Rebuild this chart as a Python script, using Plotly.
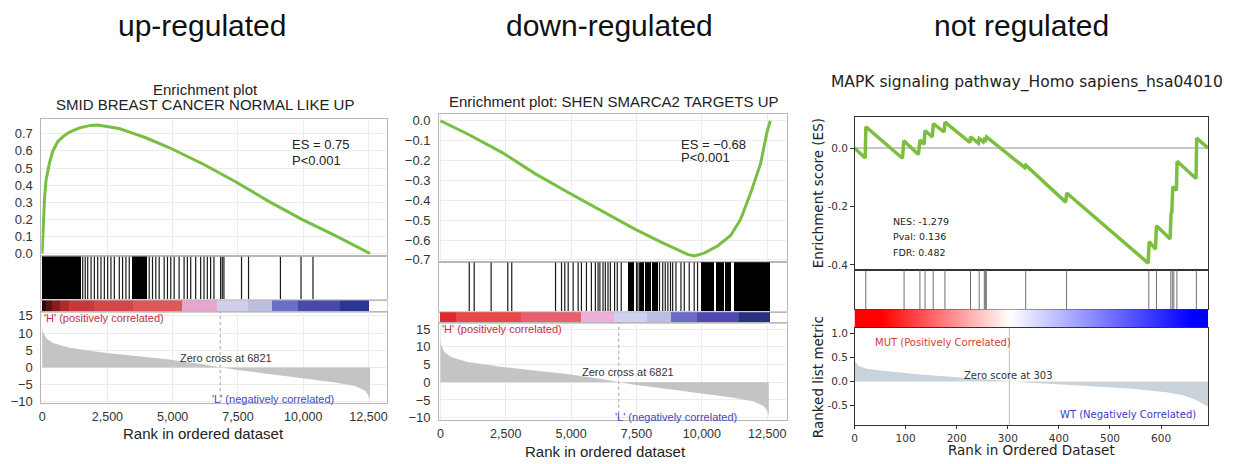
import plotly.graph_objects as go

W, H = 1233, 464


def fx(px):
    return px / W


def fy(py):
    return 1 - py / H


# ---------------- data ----------------
# Panel 1: up-regulated (SMID BREAST CANCER NORMAL LIKE UP)
es1_rank = [0, 40, 90, 150, 280, 410, 600, 800, 1050, 1430, 1810, 2130, 2450, 2950,
            3600, 3970, 4860, 6140, 7410, 8680, 9950, 11230, 12560]
es1_score = [0.0, 0.16, 0.32, 0.43, 0.53, 0.60, 0.655, 0.684, 0.71, 0.735, 0.748, 0.752,
             0.745, 0.731, 0.697, 0.677, 0.62, 0.525, 0.42, 0.305, 0.2, 0.105, 0.0]
hit1_single = [1554, 1650, 1745, 1874, 2000, 2127, 2253, 2382, 2509, 2635, 2764, 2955,
               3081, 3208, 3336, 4100, 4227, 4353, 4483, 4674, 4800, 4926, 5056, 5246,
               5437, 5563, 5690, 5880, 6071, 6200, 6327, 6453, 6581, 6835, 6900, 6963,
               7637, 7905, 9127, 9916, 10374]
hit1_block_start = [0, 3463]
hit1_block_end = [1500, 4036]
cb1_start = [0, 150, 400, 700, 1050, 2000, 3500, 5380, 6700, 7900, 8800, 9830, 11420]
cb1_end = [150, 400, 700, 1050, 2000, 3500, 5380, 6700, 7900, 8800, 9830, 11420, 12550]
cb1_color = ['#2a0a0a', '#5c1212', '#8c1c1c', '#ad2a2a', '#c43a3a', '#d24848', '#de5858',
             '#e6a6cc', '#cfcfec', '#bdbde3', '#6a6ec4', '#4a48aa', '#2a3598']

# Panel 2: down-regulated (SHEN SMARCA2 TARGETS UP)
es2_rank = [0, 1080, 2350, 3620, 4890, 6155, 7420, 8440, 9075, 9455, 9710, 10090,
            10600, 11100, 11485, 11865, 12245, 12500, 12620]
es2_score = [0.0, -0.069, -0.159, -0.266, -0.361, -0.451, -0.544, -0.61, -0.648, -0.672,
             -0.68, -0.666, -0.63, -0.577, -0.495, -0.364, -0.216, -0.052, 0.0]
hit2_single = [1104, 1294, 1941, 2577, 2729, 4404, 4633, 4758, 4888, 5078, 5268, 5394,
               5585, 5775, 5927, 6030, 6100, 6220, 6308, 6410, 6500, 6662, 6765, 6916,
               7500, 7551, 7613, 8380, 8503, 8600, 8700, 8800, 8884, 9009, 9200, 9327,
               9517, 9707, 9835]
hit2_block_start = [7172, 7652, 7830, 8090, 9962, 10530, 10900, 11229]
hit2_block_end = [7423, 7780, 8040, 8313, 10450, 10840, 11130, 12620]
cb2_start = [0, 600, 3100, 5380, 6650, 7900, 8820, 9830, 11420]
cb2_end = [600, 3100, 5380, 6650, 7900, 8820, 9830, 11420, 12620]
cb2_color = ['#e02a2a', '#e64848', '#e6606e', '#eeb0d8', '#d0d0f0', '#bcbce6', '#6a6ac8',
             '#5048b0', '#283080']

# Ranked list metric (same dataset for panels 1 and 2)
metric_rank = [0, 27, 154, 408, 1045, 2317, 3590, 4864, 6136, 6821, 7408, 8683, 9954,
               11226, 11990, 12373, 12500, 12560]
metric_value = [11.8, 10.4, 8.5, 7.1, 5.7, 4.35, 3.3, 2.3, 0.9, 0.0, -0.7, -1.9, -3.1,
                -4.4, -5.4, -6.8, -8.1, -9.3]
zero_cross = 6821

# Panel 3: not regulated (MAPK signaling pathway)
es3_rank = [0, 20.9, 22.2, 93.8, 96.4, 125, 128.3, 136.1, 138, 152.3, 154.3, 175.1, 177.1,
            225.9, 227.2, 242.2, 244.1, 251.9, 253.9, 256.5, 258.4, 333.3, 335.2, 413.3,
            415.3, 574.7, 576.7, 589, 591, 617.7, 619.6, 620.9, 622.9, 630, 631.3, 668.4,
            669.7, 692]
es3_score = [0.0, -0.034, 0.073, -0.035, 0.025, -0.022, 0.028, 0.013, 0.060, 0.038, 0.084,
             0.055, 0.089, 0.019, 0.038, 0.017, 0.032, 0.021, 0.030, 0.027, 0.038, -0.067,
             -0.059, -0.185, -0.154, -0.394, -0.320, -0.346, -0.266, -0.311, -0.221,
             -0.223, -0.132, -0.145, -0.045, -0.104, 0.034, 0.0]
hit3 = [22, 97, 128, 138, 154, 177, 227, 244, 254, 256, 258, 335, 415, 576, 591, 619,
        622, 625, 631, 669]
m3_rank = [0, 8, 24, 56, 122, 187, 252, 303, 350, 415, 480, 545, 610, 643, 669, 692]
m3_value = [0.43, 0.32, 0.265, 0.22, 0.15, 0.10, 0.048, 0.0, -0.034, -0.068, -0.11, -0.156,
            -0.224, -0.29, -0.39, -0.53]
zero_score = 303
cb3_rank = [0, 50, 303, 660, 692]
cb3_level = [1, 1, 0, -1, -1]

# ---------------- styles ----------------
GREEN = '#76bf43'
GREEN3 = '#7cbf3f'
ARIAL = 'Liberation Sans'
DEJA = 'DejaVu Sans'


def vlines(xs):
    X, Y = [], []
    for r in xs:
        X += [r, r, None]
        Y += [0, 1, None]
    return X, Y


fig = go.Figure()

# ---- panel 1 ----
fig.add_trace(go.Scatter(x=metric_rank, y=metric_value, mode='lines', fill='tozeroy',
                         fillcolor='#c4c4c4', line=dict(width=0, color='#c4c4c4'),
                         xaxis='x4', yaxis='y4'))
fig.add_trace(go.Scatter(x=es1_rank, y=es1_score, mode='lines',
                         line=dict(color=GREEN, width=3), xaxis='x', yaxis='y'))
X, Y = vlines(hit1_single)
fig.add_trace(go.Scatter(x=X, y=Y, mode='lines', line=dict(color='#1a1a1a', width=1.2),
                         xaxis='x2', yaxis='y2'))
fig.add_trace(go.Bar(x=hit1_block_start, y=[1] * len(hit1_block_start), base=0, offset=0,
                     width=[e - s for s, e in zip(hit1_block_start, hit1_block_end)],
                     marker=dict(color='#000000', line=dict(width=0)),
                     xaxis='x2', yaxis='y2'))
fig.add_trace(go.Bar(x=cb1_start, y=[1] * len(cb1_start), base=0, offset=0,
                     width=[e - s for s, e in zip(cb1_start, cb1_end)],
                     marker=dict(color=cb1_color, line=dict(width=0)),
                     xaxis='x3', yaxis='y3'))

# ---- panel 2 ----
fig.add_trace(go.Scatter(x=metric_rank, y=metric_value, mode='lines', fill='tozeroy',
                         fillcolor='#c4c4c4', line=dict(width=0, color='#c4c4c4'),
                         xaxis='x8', yaxis='y8'))
fig.add_trace(go.Scatter(x=es2_rank, y=es2_score, mode='lines',
                         line=dict(color=GREEN, width=3), xaxis='x5', yaxis='y5'))
X, Y = vlines(hit2_single)
fig.add_trace(go.Scatter(x=X, y=Y, mode='lines', line=dict(color='#1a1a1a', width=1.2),
                         xaxis='x6', yaxis='y6'))
fig.add_trace(go.Bar(x=hit2_block_start, y=[1] * len(hit2_block_start), base=0, offset=0,
                     width=[e - s for s, e in zip(hit2_block_start, hit2_block_end)],
                     marker=dict(color='#000000', line=dict(width=0)),
                     xaxis='x6', yaxis='y6'))
fig.add_trace(go.Bar(x=cb2_start, y=[1] * len(cb2_start), base=0, offset=0,
                     width=[e - s for s, e in zip(cb2_start, cb2_end)],
                     marker=dict(color=cb2_color, line=dict(width=0)),
                     xaxis='x7', yaxis='y7'))

# ---- panel 3 ----
fig.add_trace(go.Scatter(x=m3_rank, y=m3_value, mode='lines', fill='tozeroy',
                         fillcolor='#c9d3dc', line=dict(width=0, color='#c9d3dc'),
                         xaxis='x12', yaxis='y12'))
fig.add_trace(go.Scatter(x=es3_rank, y=es3_score, mode='lines',
                         line=dict(color=GREEN3, width=3.5), xaxis='x9', yaxis='y9'))
X, Y = vlines(hit3)
fig.add_trace(go.Scatter(x=X, y=Y, mode='lines', line=dict(color='#707070', width=1),
                         xaxis='x10', yaxis='y10'))
fig.add_trace(go.Heatmap(x=cb3_rank, y=[0, 1], z=[cb3_level, cb3_level], zsmooth='best',
                         colorscale=[[0, '#0000ff'], [0.5, '#ffffff'], [1, '#ff0000']],
                         zmin=-1, zmax=1, showscale=False, xaxis='x11', yaxis='y11'))

# ---------------- axes ----------------
base12 = dict(showline=True, mirror=True, linecolor='#b8b8b8', linewidth=1, ticks='',
              zeroline=False, showgrid=False,
              tickfont=dict(family=ARIAL, size=13, color='#333'))
base3 = dict(showline=True, mirror=True, linecolor='#333', linewidth=1, ticks='outside',
             ticklen=3.5, tickcolor='#333', zeroline=False, showgrid=False,
             tickfont=dict(family=DEJA, size=10.5, color='#333'))

layout = {}


def setax(n, x0, x1, ytop, ybot, xr, yr, base, xextra=None, yextra=None):
    xs = '' if n == 1 else str(n)
    xa = dict(base, domain=[fx(x0), fx(x1)], anchor='y' + xs, range=xr,
              showticklabels=False)
    ya = dict(base, domain=[fy(ybot), fy(ytop)], anchor='x' + xs, range=yr,
              showticklabels=False)
    if xextra:
        xa.update(xextra)
    if yextra:
        ya.update(yextra)
    layout['xaxis' + xs] = xa
    layout['yaxis' + xs] = ya


grid = dict(showgrid=True, gridcolor='#ececec', gridwidth=1)
xr1 = [-30, 13200]
xr2 = [-50, 13273]
xr3 = [0, 692]
xt12 = dict(showticklabels=True, tickvals=[0, 2500, 5000, 7500, 10000, 12500],
            tickformat=',d', ticklabelstandoff=2,
            tickfont=dict(family=ARIAL, size=12.5, color='#333'))

# panel 1
setax(1, 38.5, 385, 118, 258, xr1, [-0.017, 0.784], base12,
      dict(grid, tickvals=[0, 2500, 5000, 7500, 10000, 12500]),
      dict(grid, showticklabels=True, tickvals=[0, 0.1, 0.2, 0.3, 0.4, 0.5, 0.6, 0.7],
           tickformat='.1f', ticklabelstandoff=5))
setax(2, 38.5, 385, 258, 303, xr1, [0, 1], base12)
setax(3, 38.5, 385, 303, 315, xr1, [0, 1], base12, dict(linecolor='#d0d0d0'),
      dict(linecolor='#d0d0d0'))
setax(4, 38.5, 385, 315, 408, xr1, [-10.4, 16.05], base12,
      dict(grid, **xt12),
      dict(grid, showticklabels=True, tickvals=[-10, -5, 0, 5, 10, 15],
           ticklabelstandoff=5))
# panel 2
setax(5, 437.5, 787, 112, 264, xr2, [-0.712, 0.036], base12,
      dict(grid, tickvals=[0, 2500, 5000, 7500, 10000, 12500]),
      dict(grid, showticklabels=True,
           tickvals=[0, -0.1, -0.2, -0.3, -0.4, -0.5, -0.6, -0.7],
           tickformat='.1f', ticklabelstandoff=5))
setax(6, 437.5, 787, 264, 315, xr2, [0, 1], base12)
setax(7, 437.5, 787, 315, 326, xr2, [0, 1], base12, dict(linecolor='#d0d0d0'),
      dict(linecolor='#d0d0d0'))
setax(8, 437.5, 787, 326, 425, xr2, [-10.6, 16.7], base12,
      dict(grid, **xt12),
      dict(grid, showticklabels=True, tickvals=[-10, -5, 0, 5, 10, 15],
           ticklabelstandoff=5))
# panel 3
setax(9, 854.3, 1209, 115, 272, xr3, [-0.418, 0.108], base3,
      dict(ticks=''),
      dict(showticklabels=True, tickvals=[0, -0.2, -0.4], ticktext=['0.0', '-0.2', '-0.4'],
           zeroline=True, zerolinecolor='#c8c8c8', zerolinewidth=1.5))
setax(10, 854.3, 1209, 272, 312, xr3, [0, 1], base3, dict(ticks=''), dict(ticks=''))
setax(11, 854.3, 1209, 312, 331, xr3, [0, 1], base3,
      dict(ticks='', showline=False), dict(ticks='', showline=False))
setax(12, 854.3, 1209, 331, 430, xr3, [-0.904, 1.116], base3,
      dict(showticklabels=True, tickvals=[0, 100, 200, 300, 400, 500, 600]),
      dict(showticklabels=True, tickvals=[1.0, 0.5, 0.0, -0.5],
           ticktext=['1.0', '0.5', '0.0', '-0.5']))

# ---------------- annotations ----------------
ann = []


def txt(text, x, y, size, family=ARIAL, color='#222', xref='paper', yref='paper',
        xanchor='center', angle=0):
    ann.append(dict(text=text, x=x, y=y, xref=xref, yref=yref, showarrow=False,
                    xanchor=xanchor, yanchor='middle', textangle=angle,
                    font=dict(family=family, size=size, color=color)))


txt('up-regulated', fx(200), fy(22), 30, color='#111')
txt('down-regulated', fx(608), fy(22), 30, color='#111')
txt('not regulated', fx(1022), fy(22), 30, color='#111')

txt('Enrichment plot', fx(203), fy(87), 15)
txt('SMID BREAST CANCER NORMAL LIKE UP', fx(203), fy(103), 15)
txt('Enrichment plot: SHEN SMARCA2 TARGETS UP', fx(613), fy(100), 15)
txt('MAPK signaling pathway_Homo sapiens_hsa04010', fx(1027), fy(80), 15.5, family=DEJA)

txt('Rank in ordered dataset', fx(201), fy(439), 15)
txt('Rank in ordered dataset', fx(604), fy(457), 15)
txt('Rank in Ordered Dataset', fx(1032), fy(456), 13.5, family=DEJA)
txt('Enrichment score (ES)', fx(817), fy(193), 13.5, family=DEJA, angle=-90)
txt('Ranked list metric', fx(817), fy(381), 13.5, family=DEJA, angle=-90)

# panel 1 texts
txt('ES = 0.75', 9496, 0.635, 13, xref='x', yref='y', xanchor='left')
txt('P&lt;0.001', 9496, 0.544, 13, xref='x', yref='y', xanchor='left')
txt("'H' (positively correlated)", 0, 14.3, 11, color='#c0304a', xref='x4', yref='y4',
    xanchor='left')
txt("'L' (negatively correlated)", 6440, -9.3, 11, color='#4848c0', xref='x4', yref='y4',
    xanchor='left')
txt('Zero cross at 6821', 7050, 2.8, 11, color='#333', xref='x4', yref='y4')
# panel 2 texts
txt('ES = \u22120.68', 9125, -0.117, 13, xref='x5', yref='y5', xanchor='left')
txt('P&lt;0.001', 9125, -0.185, 13, xref='x5', yref='y5', xanchor='left')
txt("'H' (positively correlated)", 0, 14.9, 11, color='#c0304a', xref='x8', yref='y8',
    xanchor='left')
txt("'L' (negatively correlated)", 6612, -9.8, 11, color='#4848c0', xref='x8', yref='y8',
    xanchor='left')
txt('Zero cross at 6821', 7183, 3.0, 11, color='#333', xref='x8', yref='y8')
# panel 3 texts
txt('NES: -1.279', 71, -0.25, 9.5, family=DEJA, xref='x9', yref='y9', xanchor='left')
txt('Pval: 0.136', 71, -0.304, 9.5, family=DEJA, xref='x9', yref='y9', xanchor='left')
txt('FDR: 0.482', 71, -0.357, 9.5, family=DEJA, xref='x9', yref='y9', xanchor='left')
txt('MUT (Positively Correlated)', 36, 0.81, 10, family=DEJA, color='#d63a3a',
    xref='x12', yref='y12', xanchor='left')
txt('Zero score at 303', 302, 0.116, 10, family=DEJA, color='#333', xref='x12',
    yref='y12')
txt('WT (Negatively Correlated)', 398, -0.7, 10, family=DEJA, color='#3a3ad0',
    xref='x12', yref='y12', xanchor='left')

shapes = [
    dict(type='line', xref='x4', yref='y4 domain', x0=zero_cross, x1=zero_cross, y0=0,
         y1=1, line=dict(color='#a0a0a0', width=1, dash='dot')),
    dict(type='line', xref='x8', yref='y8 domain', x0=zero_cross, x1=zero_cross, y0=0,
         y1=1, line=dict(color='#a0a0a0', width=1, dash='dot')),
    dict(type='line', xref='x12', yref='y12 domain', x0=zero_score, x1=zero_score, y0=0,
         y1=1, line=dict(color='#c0c0c0', width=1)),
]

fig.update_layout(**layout)
fig.update_layout(width=W, height=H, autosize=False,
                  margin=dict(l=0, r=0, t=0, b=0, pad=0),
                  paper_bgcolor='white', plot_bgcolor='white',
                  showlegend=False, barmode='overlay', bargap=0,
                  annotations=ann, shapes=shapes)

fig.write_html('out.html', config={'displayModeBar': False},
               post_script="document.body.style.margin='0px';"
                           "document.body.style.overflow='hidden';")
